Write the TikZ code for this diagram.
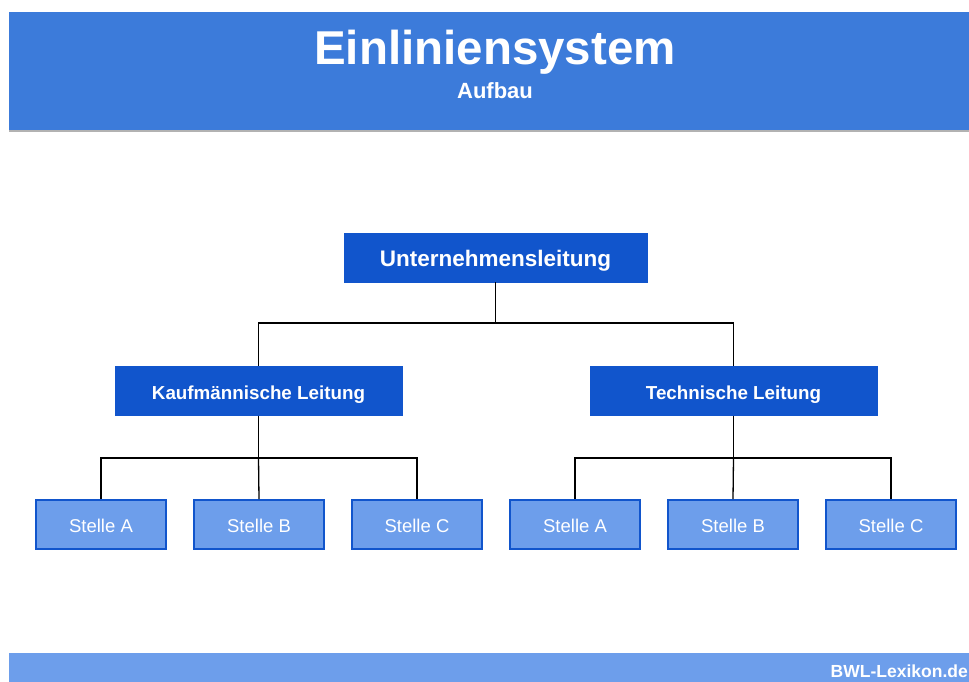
\documentclass[tikz,border=0pt]{standalone}
\usepackage{fontspec}
\setmainfont{Liberation Sans}
\usetikzlibrary{positioning,calc}
\definecolor{headblue}{HTML}{3C7BDA}
\definecolor{darkblue}{HTML}{1155CC}
\definecolor{lightblue}{HTML}{6D9EEB}

\begin{document}
\begin{tikzpicture}[x=1pt,y=-1pt,
    leitbox/.style={draw=darkblue, fill=darkblue, text=white, font=\bfseries,
        minimum height=49pt, inner sep=0pt, text depth=0pt},
    stellebox/.style={draw=darkblue, line width=1.6pt, fill=lightblue, text=white,
        minimum width=130pt, minimum height=49pt, inner sep=0pt, text height=15.5pt, text depth=0pt,
        font=\fontsize{18.5}{20}\selectfont},
    link/.style={draw=black, line width=1.3pt}]
    \useasboundingbox (0,0) rectangle (969,682);

    % Kopfzeile
    \fill[headblue] (9,12) rectangle (969,130);
    \draw[gray!60, line width=1.5pt] (9,131) -- (969,131);
    \node[anchor=base, inner sep=0pt] (title) at (495,65) {\color{white}\bfseries\fontsize{47.5}{50}\selectfont Einliniensystem};
    \node[anchor=base, inner sep=0pt] (sub) at (495,99) {\color{white}\bfseries\fontsize{22}{24}\selectfont Aufbau};

    % Fusszeile
    \fill[lightblue] (9,653) rectangle (969,682);
    \node[anchor=base east, inner sep=0pt] (web) at (968,677)
        {\color{white}\bfseries\fontsize{17.5}{19}\selectfont BWL-Lexikon.de};

    % Leitung
    \node[leitbox, minimum width=303pt, text height=17pt, font=\bfseries\fontsize{22.5}{24}\selectfont] (ul) at (495.5,257.5) {Unternehmensleitung};
    \node[leitbox, minimum width=287pt, text height=16.5pt, font=\bfseries\fontsize{18.8}{20}\selectfont] (kl) at (258.5,391) {Kaufmännische Leitung};
    \node[leitbox, minimum width=287pt, text height=16.5pt, font=\bfseries\fontsize{18.8}{20}\selectfont] (tl) at (733.5,391) {Technische Leitung};

    % Stellen
    \foreach \x/\s/\n in {101/A/ka, 259/B/kb, 417/C/kc, 575/A/ta, 733/B/tb, 891/C/tc} {
        \node[stellebox] (\n) at (\x,524.5) {Stelle \s};
    }

    % Verbindungen
    \coordinate (j0) at (495.5,323);
    \coordinate (j1) at (258.5,458);
    \coordinate (j2) at (733.5,458);
    \draw[link] (ul.south) -- (j0);
    \draw[link] (j0) -| (kl.north);
    \draw[link] (j0) -| (tl.north);
    \draw[link] (kl.south) -- (j1);
    \draw[link] (j1) -| (ka.north);
    \draw[link] (j1) -| (kc.north);
    \draw[link] (j1) -- (kb.north);
    \draw[link] (tl.south) -- (j2);
    \draw[link] (j2) -| (ta.north);
    \draw[link] (j2) -| (tc.north);
    \draw[link] (j2) -- (tb.north);
\end{tikzpicture}
\end{document}
